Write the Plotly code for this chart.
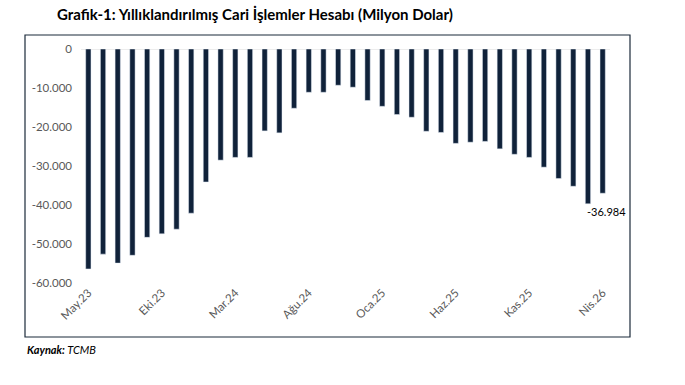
import plotly.graph_objects as go

months = ["Oca", "Şub", "Mar", "Nis", "May", "Haz", "Tem", "Ağu", "Eyl", "Eki", "Kas", "Ara"]
categories = []
for i in range(36):
    m = (4 + i) % 12
    y = 23 + (4 + i) // 12
    categories.append(f"{months[m]}.{y}")

values = [-56400, -52600, -54900, -52900, -48300, -47400, -46200, -42100, -34100, -28500,
          -27800, -27800, -21000, -21500, -15200, -11100, -11100, -9300, -9800, -13200,
          -14700, -16800, -17500, -21100, -21400, -24200, -23900, -23700, -25600, -27000,
          -27800, -30300, -33200, -35200, -39700, -36984]

tick_cats = categories[::5]
y_ticks = [0, -10000, -20000, -30000, -40000, -50000, -60000]


def fmt(v):
    s = f"{abs(v):,}".replace(",", ".")
    return ("-" + s) if v < 0 else s


fig = go.Figure()
fig.add_trace(go.Bar(
    x=categories, y=values, marker_color="#10223A", width=0.36,
))

fig.update_layout(
    width=685, height=385,
    margin=dict(l=81, r=75, t=49, b=102),
    paper_bgcolor="white", plot_bgcolor="white",
    showlegend=False,
    font=dict(family="Lato", size=11, color="#595959"),
    xaxis=dict(type="category", tickmode="array", tickvals=tick_cats, ticktext=tick_cats,
               range=[-0.5, len(categories) - 0.5],
               tickangle=-45, showgrid=False, zeroline=False, showline=False, ticks="",
               tickfont=dict(size=11.5, color="#595959")),
    yaxis=dict(range=[-60000, 0], tickmode="array", tickvals=y_ticks,
               ticktext=[fmt(v) for v in y_ticks], showgrid=False, zeroline=False,
               showline=False, ticks="", ticklabelstandoff=8,
               tickfont=dict(size=11.5, color="#595959")),
    annotations=[
        dict(text="<b>Grafik-1: Yıllıklandırılmış Cari İşlemler Hesabı (Milyon Dolar)</b>",
             xref="paper", yref="paper", x=(55 - 81) / 529, y=(283 - 14) / 234,
             xanchor="left", yanchor="middle", showarrow=False,
             font=dict(family="Lato", size=15, color="#000000")),
        dict(text="<b><i>Kaynak:</i></b><i> TCMB</i>",
             xref="paper", yref="paper", x=(25 - 81) / 529, y=(283 - 350) / 234,
             xanchor="left", yanchor="middle", showarrow=False,
             font=dict(family="Lato", size=11, color="#000000")),
        dict(text=fmt(values[-1]), x=categories[-1], y=values[-1], xref="x", yref="y",
             xanchor="center", yanchor="top", yshift=-10, xshift=4, showarrow=False,
             font=dict(family="Lato", size=11, color="#000000")),
    ],
    shapes=[
        dict(type="rect", xref="paper", yref="paper",
             x0=(25 - 81) / 529, x1=(630 - 81) / 529,
             y0=(283 - 337) / 234, y1=(283 - 35) / 234,
             line=dict(color="#1B2A3A", width=1.2), fillcolor="rgba(0,0,0,0)", layer="below"),
        dict(type="line", xref="paper", yref="y", x0=0, x1=1, y0=0, y1=0,
             line=dict(color="#D9D9D9", width=1), layer="below"),
    ],
)

fig.write_html("out.html")
